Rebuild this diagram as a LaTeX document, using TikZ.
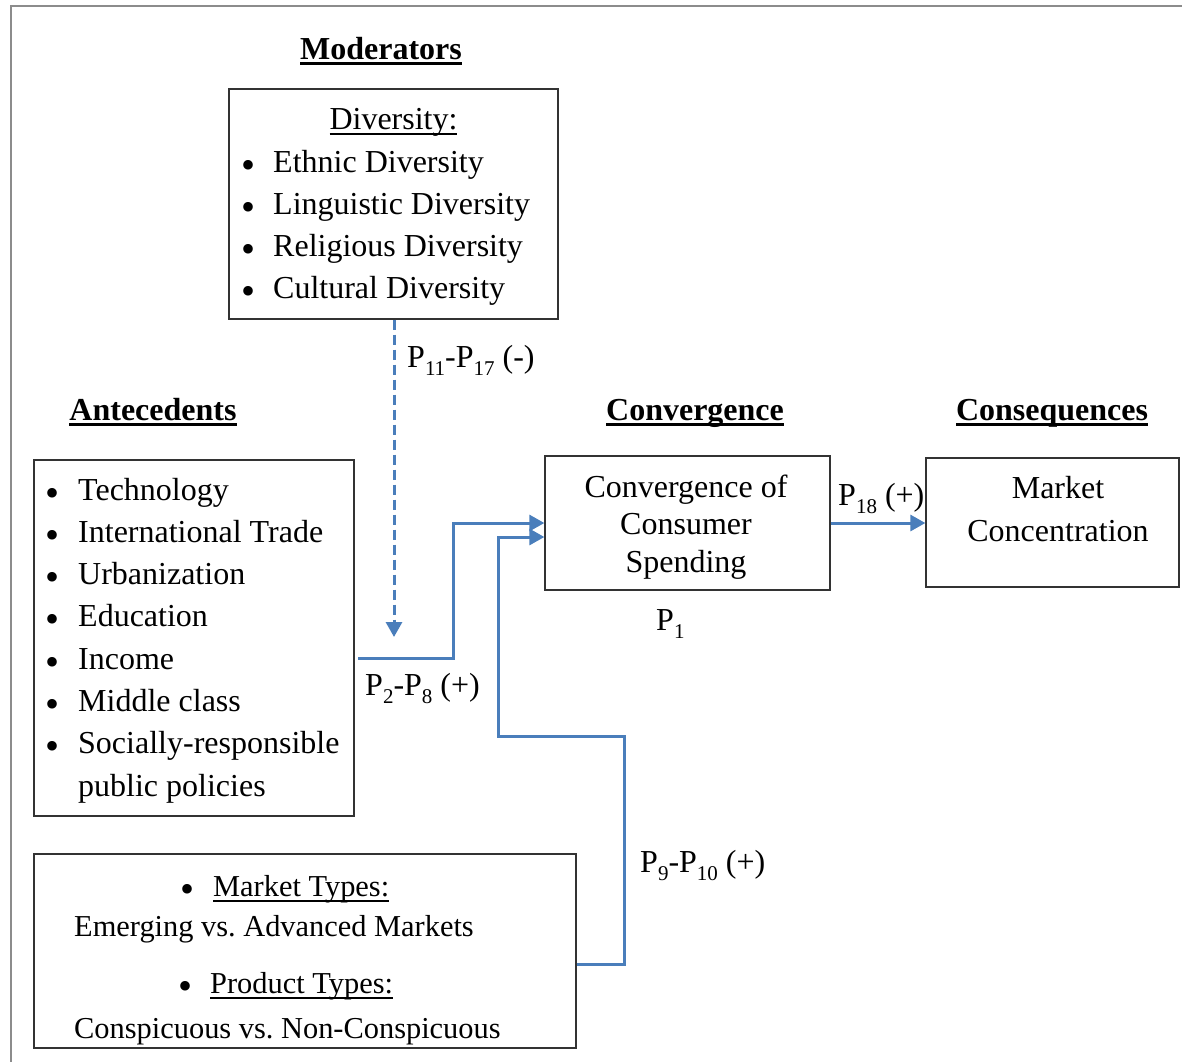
\documentclass[tikz,border=0pt]{standalone}
\usepackage{fontspec}
\setmainfont{Liberation Serif}
\usetikzlibrary{arrows.meta}
\definecolor{arr}{HTML}{4A7EBB}
\definecolor{framegray}{HTML}{8C8C8C}
\newsavebox\ulbox
\frenchspacing
\newcommand\sbs[1]{\raisebox{-8pt}{\fontsize{21}{21}\selectfont #1}}
\newcommand\ulnorm[1]{\sbox\ulbox{#1}\rlap{\rule[-6pt]{\wd\ulbox}{2pt}}\usebox\ulbox}
\newcommand\ulbold[1]{\sbox\ulbox{#1}\rlap{\rule[-6pt]{\wd\ulbox}{3pt}}\usebox\ulbox}
\begin{document}
\begin{tikzpicture}[x=1pt,y=-1pt,
  txt/.style={inner sep=0pt, font=\fontsize{32}{42}\selectfont},
  txs/.style={inner sep=0pt, font=\fontsize{30.4}{40}\selectfont},
  blt/.style={inner sep=0pt, font=\fontsize{40}{40}\selectfont, anchor=base},
  box/.style={draw=black!80, line width=1.3pt, inner sep=0pt},
  conn/.style={draw=arr, line width=3pt, -{Triangle[length=15pt,width=16pt]}},
  dconn/.style={conn, dash pattern=on 10pt off 5pt}
]
\useasboundingbox (0,0) rectangle (1182,1061);
\fill[white] (0,0) rectangle (1182,1061);
\draw[framegray, line width=2.5pt] (11,1065) -- (11,6) -- (1186,6);

% headings
\node[txt, anchor=base] (hmod) at (381,59) {\ulbold{\textbf{Moderators}}};
\node[txt, anchor=base] (hant) at (153,420) {\ulbold{\textbf{Antecedents}}};
\node[txt, anchor=base] (hconv) at (695,420) {\ulbold{\textbf{Convergence}}};
\node[txt, anchor=base] (hcons) at (1052,420) {\ulbold{\textbf{Consequences}}};

% boxes
\node[box, minimum width=329pt, minimum height=230pt] (div) at (393.5,204) {};
\node[box, minimum width=320pt, minimum height=356pt] (ante) at (194,638) {};
\node[box, minimum width=285pt, minimum height=134pt] (conv) at (687.5,523) {};
\node[box, minimum width=253pt, minimum height=129pt] (mkt) at (1052.5,522.5) {};
\node[box, minimum width=542pt, minimum height=194pt] (types) at (305,951) {};

% diversity box text
\node[txt, anchor=base] (dt) at (393.5,129) {\ulnorm{Diversity:}};
\foreach \t [count=\i] in {Ethnic Diversity, Linguistic Diversity, Religious Diversity, Cultural Diversity} {
  \pgfmathsetmacro\yy{172+42*(\i-1)}
  \pgfmathsetmacro\yb{\yy+6}
  \node[blt] (db\i) at (248,\yb) {\textbullet};
  \node[txt, anchor=base west] (d\i) at (273,\yy) {\t};
}

% antecedents text
\foreach \t [count=\i] in {Technology, International Trade, Urbanization, Education, Income, Middle class, Socially-responsible} {
  \pgfmathsetmacro\yy{500+42.3*(\i-1)}
  \pgfmathsetmacro\yb{\yy+6}
  \node[blt] (ab\i) at (53,\yb) {\textbullet};
  \node[txt, anchor=base west] (a\i) at (78,\yy) {\t};
}
\node[txt, anchor=base west] (a8) at (78,796) {public policies};

% convergence text
\node[txt, anchor=base] (c1) at (686,497) {Convergence of};
\node[txt, anchor=base] (c2) at (686,534) {Consumer};
\node[txt, anchor=base] (c3) at (686,572) {Spending};

% market concentration text
\node[txt, anchor=base] (m1) at (1058,498) {Market};
\node[txt, anchor=base] (m2) at (1058,541) {Concentration};

% types box text
\node[blt] (tb1) at (187,902) {\textbullet};
\node[txs, anchor=base west] (t1) at (213,896) {\ulnorm{Market Types:}};
\node[txs, anchor=base west] (t2) at (74,936) {Emerging vs. Advanced Markets};
\node[blt] (tb2) at (185,999) {\textbullet};
\node[txs, anchor=base west] (t3) at (210,993) {\ulnorm{Product Types:}};
\node[txs, anchor=base west] (t4) at (74,1038) {Conspicuous vs. Non-Conspicuous};

% labels
\node[txt, anchor=base west] (l1) at (407,367) {P\sbs{11}-P\sbs{17} (-)};
\node[txt, anchor=base west] (l2) at (365,695) {P\sbs{2}-P\sbs{8} (+)};
\node[txt, anchor=base west] (l3) at (838,505) {P\sbs{18} (+)};
\node[txt, anchor=base west] (l4) at (640,872) {P\sbs{9}-P\sbs{10} (+)};
\node[txt, anchor=base west] (l5) at (656,630) {P\sbs{1}};

% connectors
\coordinate (dend) at (394,637);
\draw[dconn] (div.south -| dend) -- (dend);

\coordinate (a0) at (358,658);
\coordinate (a1) at (453,658);
\coordinate (a2) at (453,523);
\draw[conn] (a0) -- (a1) -- (a2) -- (a2 -| conv.west);

\coordinate (b1) at (624,964);
\coordinate (b2) at (624,736);
\coordinate (b3) at (498,736);
\coordinate (b4) at (498,537);
\draw[conn] (b1 -| types.east) -- (b1) -- (b2) -- (b3) -- (b4) -- (b4 -| conv.west);

\draw[conn] (conv.east) -- (conv.east -| mkt.west);
\end{tikzpicture}
\end{document}
